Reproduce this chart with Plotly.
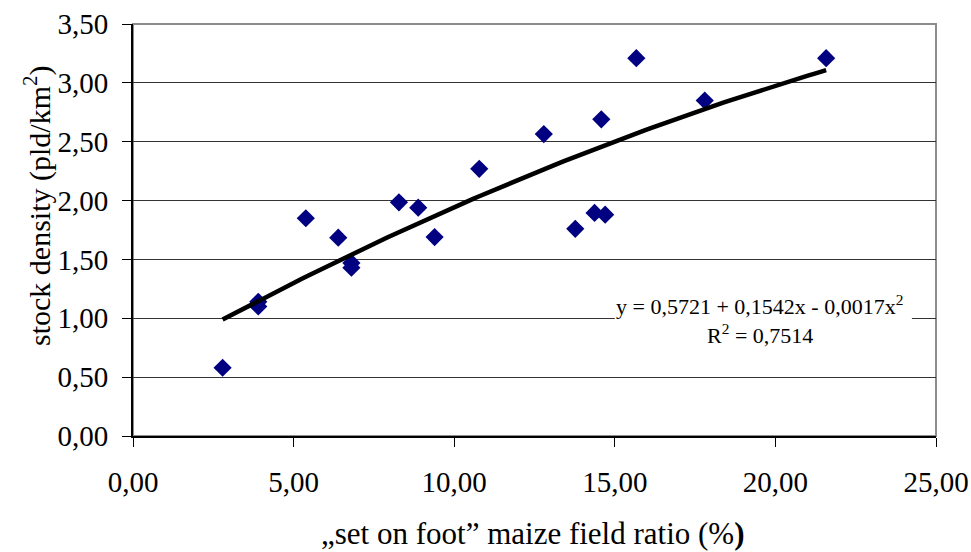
import numpy as np
import plotly.graph_objects as go

# Data
maize_ratio = [2.79, 3.90, 3.90, 5.38, 6.39, 6.80, 6.80, 8.28, 8.88, 9.39,
               10.78, 12.79, 13.77, 14.37, 14.58, 14.70, 15.67, 17.80, 21.58]
stock_density = [0.58, 1.14, 1.10, 1.85, 1.685, 1.47, 1.43, 1.985, 1.94, 1.69,
                 2.27, 2.565, 1.76, 1.895, 2.69, 1.88, 3.21, 2.85, 3.21]

# Trendline coefficients printed on the chart
coef_a = 0.5721
coef_b = 0.1542
coef_c = -0.0017
r_squared = "0,7514"

x_ticks = [0, 5, 10, 15, 20, 25]
y_ticks = [0, 0.5, 1, 1.5, 2, 2.5, 3, 3.5]

font_family = "Liberation Serif, Times New Roman, serif"

trend_x = np.linspace(min(maize_ratio), max(maize_ratio), 100)
trend_y = coef_a + coef_b * trend_x + coef_c * trend_x ** 2

fig = go.Figure()
fig.add_trace(go.Scatter(
    x=maize_ratio, y=stock_density, mode="markers",
    marker=dict(symbol="diamond", size=14, color="#000080"),
    showlegend=False, hoverinfo="x+y"))
fig.add_trace(go.Scatter(
    x=trend_x, y=trend_y, mode="lines",
    line=dict(color="black", width=4.5),
    showlegend=False, hoverinfo="skip"))

# white box behind the equation label (hides gridline)
fig.add_shape(type="rect", xref="x", yref="y", x0=15.0, x1=24.25, y0=0.80, y1=1.22,
              fillcolor="white", line=dict(width=0), layer="between")
# plot border (gray top/right)
fig.add_shape(type="rect", xref="paper", yref="paper", x0=0, x1=1, y0=0, y1=1,
              line=dict(color="#8c8c8c", width=2), layer="below")

fig.add_annotation(x=19.52, y=1.113, xref="x", yref="y",
                   text="y = 0,5721 + 0,1542x - 0,0017x<sup>2</sup>", showarrow=False,
                   xanchor="center", yanchor="middle",
                   font=dict(family=font_family, size=22, color="black"))
fig.add_annotation(x=19.52, y=0.867, xref="x", yref="y",
                   text="R<sup>2</sup> = " + r_squared, showarrow=False,
                   xanchor="center", yanchor="middle",
                   font=dict(family=font_family, size=22, color="black"))

# axis titles
fig.add_annotation(x=(533 - 133) / 803, y=(436 - 533) / 412, xref="paper", yref="paper",
                   text="„set on foot” maize field ratio (%<b>)</b>", showarrow=False,
                   xanchor="center", yanchor="middle",
                   font=dict(family=font_family, size=31, color="black"))
fig.add_annotation(x=(37 - 133) / 803, y=(436 - 206) / 412, xref="paper", yref="paper",
                   textangle=-90, xanchor="center", yanchor="middle",
                   text="stock density (pld/km<sup>2</sup>)", showarrow=False,
                   font=dict(family=font_family, size=30, color="black"))

fig.update_layout(
    width=971, height=552,
    margin=dict(l=133, r=35, t=24, b=116, autoexpand=False),
    paper_bgcolor="white", plot_bgcolor="white",
    separators=", ",
    font=dict(family=font_family, size=29, color="black"),
)
fig.update_xaxes(
    range=[0, 25], tickvals=x_ticks, tickformat=".2f",
    showgrid=False, zeroline=False, automargin=False,
    showline=True, linecolor="black", linewidth=2,
    ticks="outside", ticklen=9, tickcolor="black", tickwidth=1,
    ticklabelstandoff=10,
)
fig.update_yaxes(
    range=[0, 3.5], tickvals=y_ticks, tickformat=".2f",
    showgrid=True, gridcolor="#333333", gridwidth=1,
    zeroline=False, automargin=False,
    showline=True, linecolor="black", linewidth=2,
    ticks="outside", ticklen=9, tickcolor="black", tickwidth=1,
    ticklabelstandoff=8,
)

fig.write_html("out.html")
